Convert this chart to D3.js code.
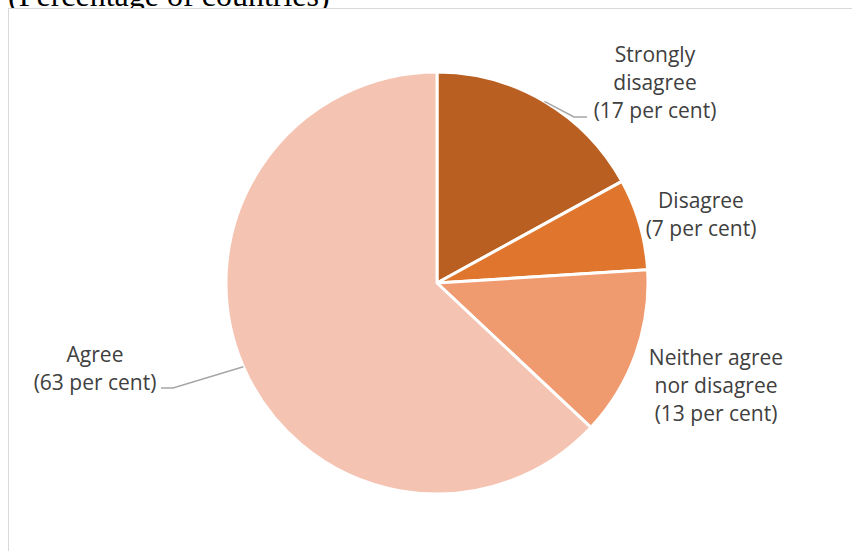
<!DOCTYPE html>
<html>
<head>
<meta charset="utf-8">
<script src="https://cdn.jsdelivr.net/npm/d3@7"></script>
<style>
  body { margin: 0; background: #fff; }
  svg { display: block; }
  .lbl { font-family: 'Open Sans', sans-serif; font-size: 21px; fill: #404040; }
  .title { font-family: 'Liberation Serif', 'Times New Roman', serif; font-size: 32px; fill: #000; }
</style>
</head>
<body>
<script>
'use strict';

//data
var categories = ['Strongly disagree', 'Disagree', 'Neither agree nor disagree', 'Agree'];
var values = [17, 7, 13, 63];
var labelLines = [
  ['Strongly', 'disagree', '(17 per cent)'],
  ['Disagree', '(7 per cent)'],
  ['Neither agree', 'nor disagree', '(13 per cent)'],
  ['Agree', '(63 per cent)']
];
var colors = ['#ba5f22', '#e0762d', '#f09a6f', '#f5c3b1'];

//layout
var width = 852, height = 551;
var cx = 437, cy = 283, radius = 211;
var lineH = 28;
// label block: center x, first baseline y (relative to pie center), leader elbow + end
var labelPos = [
  { x: 218, y: -221, leader: true, elbow: [137, -166], end: [150, -166] },
  { x: 264, y: -75, leader: false },
  { x: 279, y: 82, leader: false },
  { x: -342, y: 79, leader: true, elbow: [-264, 105], end: [-276, 105] }
];

var svg = d3.select('body').append('svg').attr('width', width).attr('height', height);

//title (partly hidden by the chart box)
svg.append('text').attr('class', 'title').attr('x', 8).attr('y', 6).text('(Percentage of countries)');

//chart box
svg.append('rect').attr('x', 8.5).attr('y', 8.5).attr('width', width + 20).attr('height', height + 20)
  .attr('fill', '#fff').attr('stroke', '#d9d9d9').attr('stroke-width', 1);

var g = svg.append('g').attr('transform', 'translate(' + cx + ',' + cy + ')');

var pie = d3.pie().sort(null).value(function (d) { return d; });
var arcs = pie(values);
var arc = d3.arc().innerRadius(0).outerRadius(radius);
var edgeArc = d3.arc().innerRadius(radius).outerRadius(radius);

g.selectAll('path.slice').data(arcs).enter().append('path')
  .attr('class', 'slice')
  .attr('d', arc)
  .attr('fill', function (d, i) { return colors[i]; })
  .attr('stroke', '#fff')
  .attr('stroke-width', 3)
  .attr('stroke-linejoin', 'round');

//leader lines
arcs.forEach(function (d, i) {
  var p = labelPos[i];
  if (!p.leader) return;
  var s = edgeArc.centroid(d);
  g.append('polyline')
    .attr('points', [s, p.elbow, p.end].map(function (q) { return q.join(','); }).join(' '))
    .attr('fill', 'none').attr('stroke', '#a6a6a6').attr('stroke-width', 1.5);
});

//labels
labelLines.forEach(function (lines, i) {
  var p = labelPos[i];
  var t = g.append('text').attr('class', 'lbl').attr('text-anchor', 'middle');
  lines.forEach(function (l, j) {
    t.append('tspan').attr('x', p.x).attr('y', p.y + j * lineH).text(l);
  });
});
</script>
</body>
</html>
